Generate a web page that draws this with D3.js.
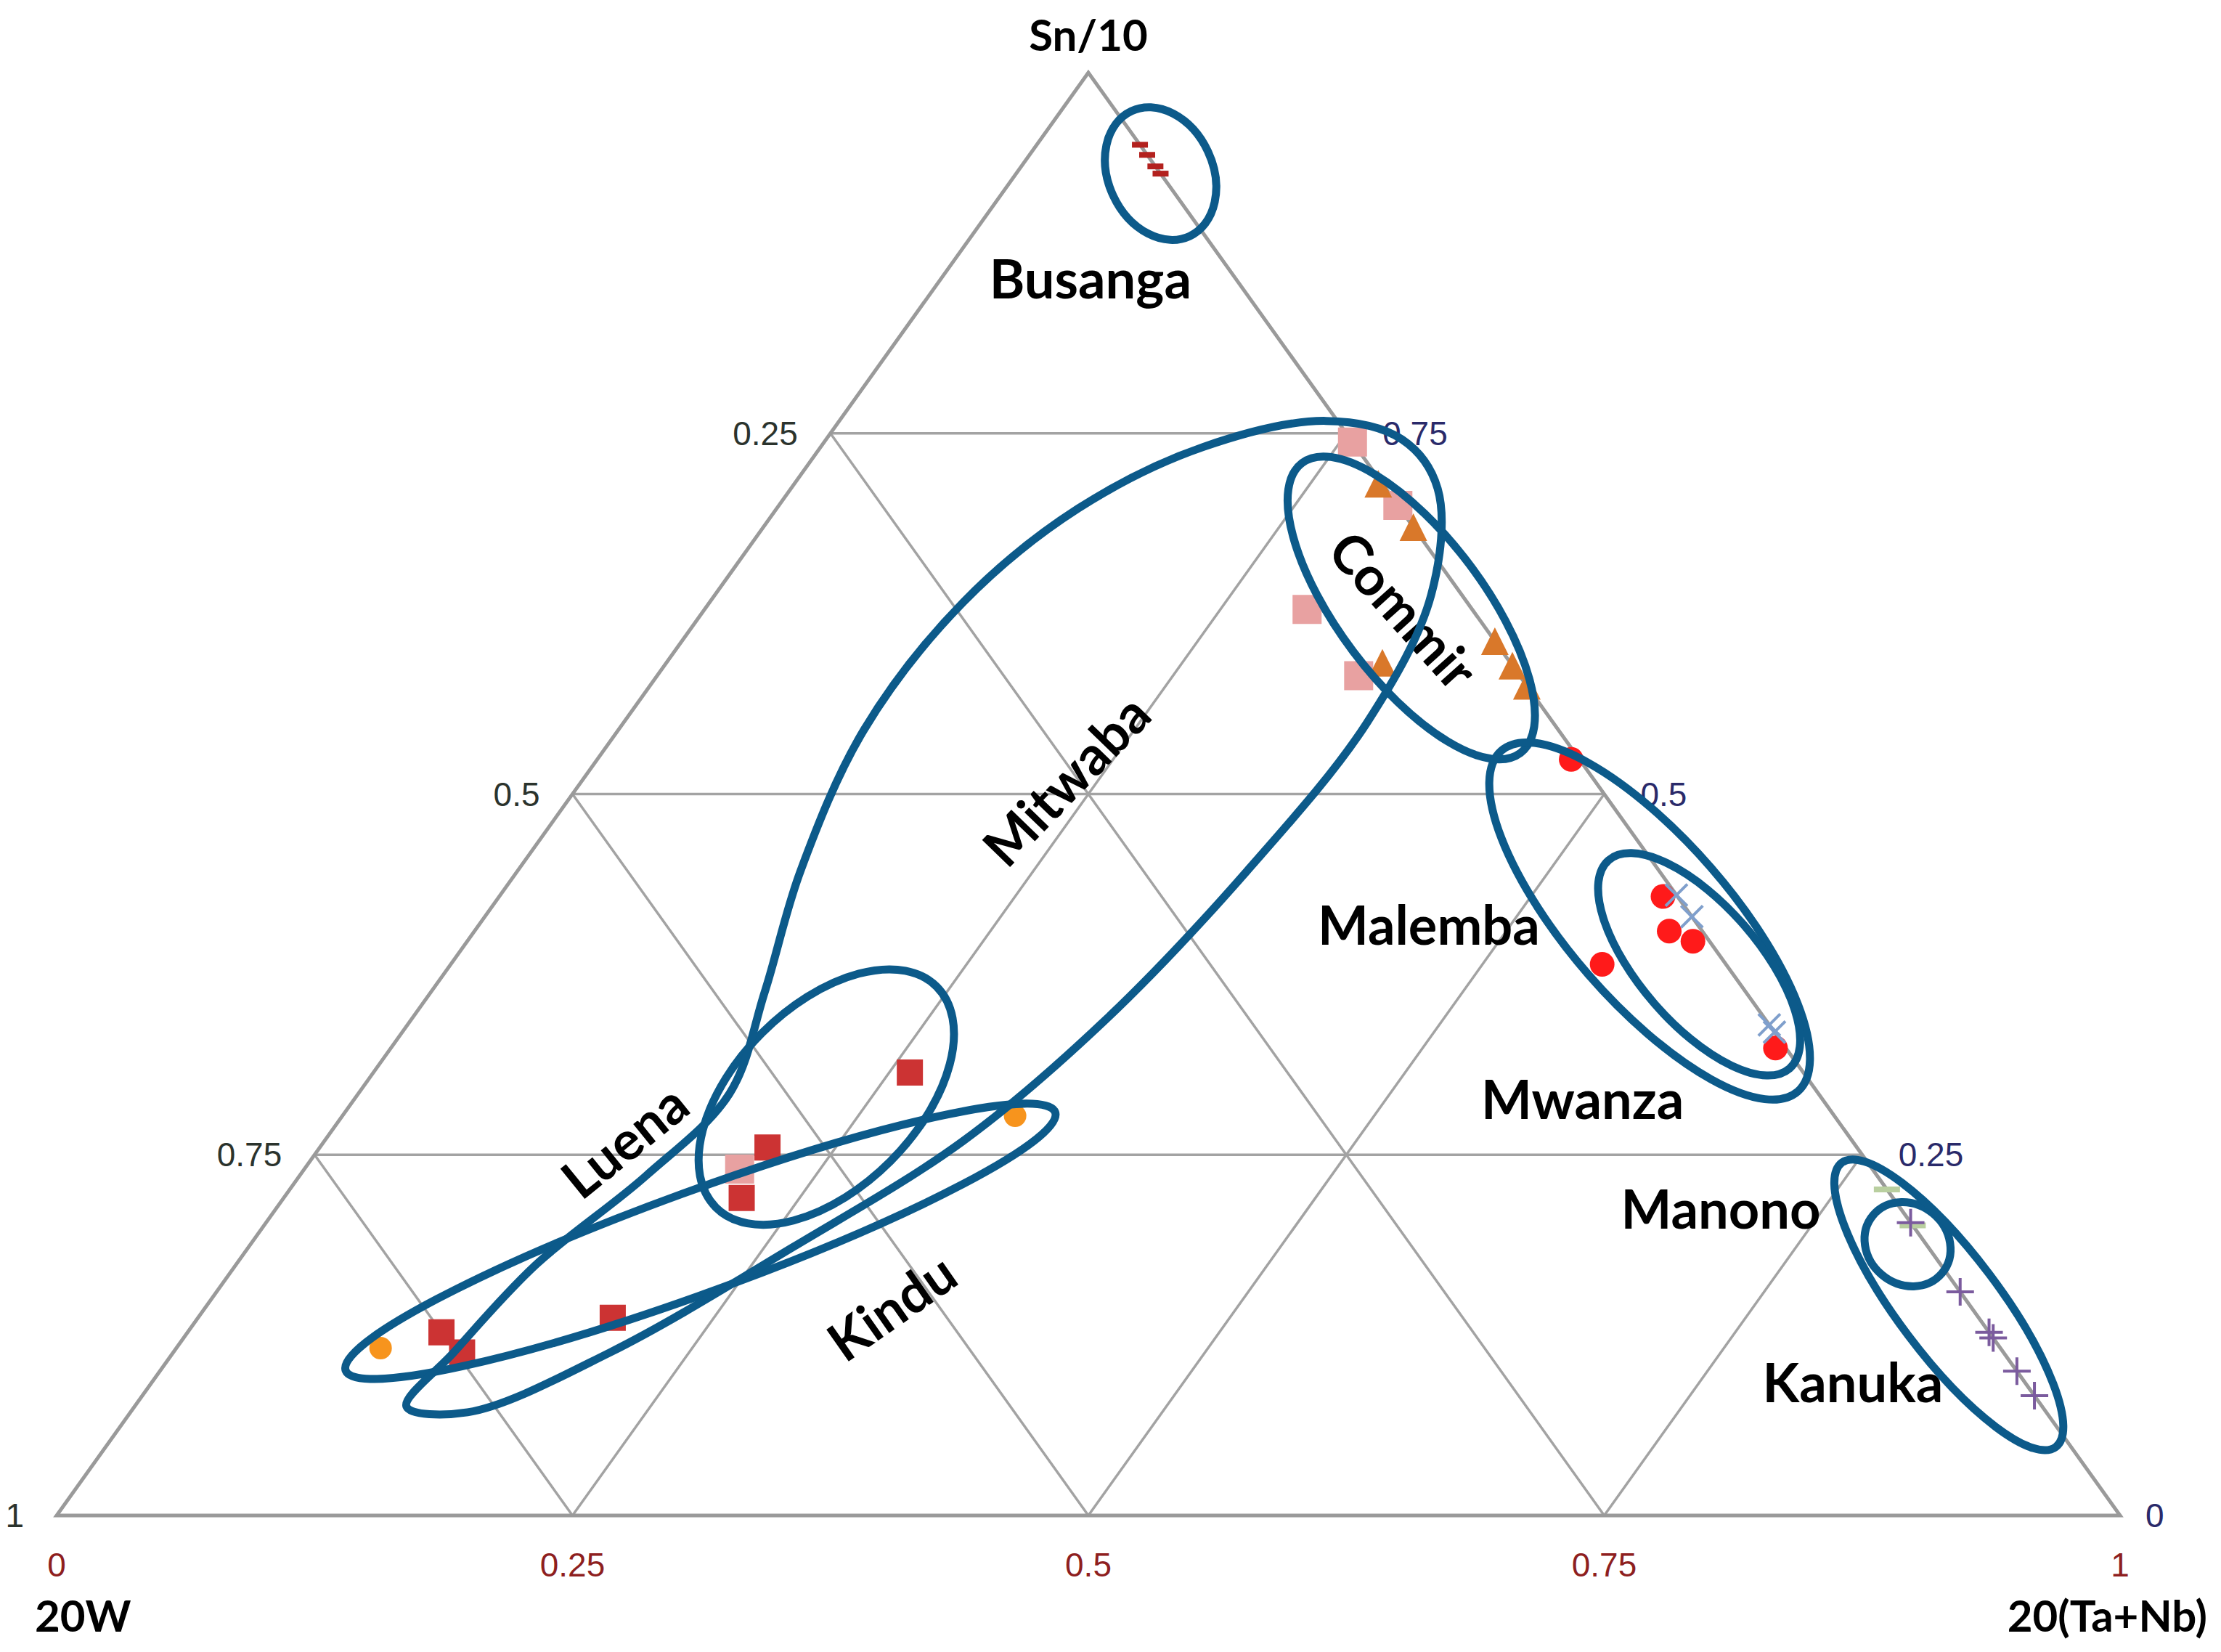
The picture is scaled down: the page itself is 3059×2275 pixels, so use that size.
<!DOCTYPE html>
<html>
<head>
<meta charset="utf-8">
<script src="https://cdn.jsdelivr.net/npm/d3@7"></script>
<style>
  body { margin: 0; background: #fff; }
  svg { display: block; }
</style>
</head>
<body>
<div id="chart"></div>
<script>
// page size
var svgWidth = 3059;
var svgHeight = 2275;

// where the triangle sits on the page
var tri = { left: 78, right: 2920, top: 100, base: 2087 };

// compositions, each one [Sn/10, 20W, 20(Ta+Nb)]
var busanga = [[0.950, 0.000, 0.050], [0.943, 0.000, 0.057], [0.935, 0.000, 0.065], [0.930, 0.000, 0.070]];
var mitwaba = [[0.744, 0.000, 0.256], [0.700, 0.000, 0.300], [0.628, 0.080, 0.292], [0.582, 0.078, 0.340], [0.240, 0.549, 0.211]];
var commir = [[0.715, 0.002, 0.283], [0.685, 0.000, 0.315], [0.606, 0.000, 0.394], [0.589, 0.000, 0.411], [0.575, 0.000, 0.425], [0.591, 0.062, 0.347]];
var malemba = [[0.524, 0.004, 0.472], [0.429, 0.007, 0.564], [0.405, 0.016, 0.579], [0.398, 0.008, 0.594], [0.382, 0.060, 0.558], [0.324, 0.005, 0.671]];
var mwanza = [[0.430, 0.000, 0.570], [0.415, 0.000, 0.585], [0.340, 0.000, 0.660], [0.335, 0.000, 0.665]];
var manono = [[0.226, 0.000, 0.774], [0.201, 0.000, 0.799]];
var kanuka = [[0.203, 0.000, 0.797], [0.155, 0.000, 0.845], [0.127, 0.000, 0.873], [0.123, 0.000, 0.877], [0.100, 0.000, 0.900], [0.083, 0.000, 0.917]];
var luena = [[0.307, 0.433, 0.260], [0.255, 0.528, 0.217], [0.220, 0.558, 0.222], [0.137, 0.662, 0.201], [0.127, 0.750, 0.123], [0.113, 0.747, 0.140]];
var kindu = [[0.116, 0.785, 0.099], [0.277, 0.397, 0.326]];

// grid levels and tick labels
var gridLevels = [0.25, 0.5, 0.75];
var leftTicks = ["1", "0.75", "0.5", "0.25"];      // along the left edge, bottom to top
var rightTicks = ["0", "0.25", "0.5", "0.75"];     // along the right edge, bottom to top
var bottomTicks = ["0", "0.25", "0.5", "0.75", "1"];

// hand drawn group outlines: centre as a composition, then size in px and tilt
var rings = [
  { at: [0.930, 0.000, 0.070], rx: 95, ry: 72, tilt: 65 },
  { at: [0.629, 0.029, 0.342], rx: 250, ry: 100, tilt: 53 },
  { at: [0.190, 0.593, 0.217], rx: 520, ry: 70, tilt: -20 },
  { at: [0.290, 0.482, 0.228], rx: 215, ry: 125, tilt: -45 },
  { at: [0.412, 0.022, 0.566], rx: 311, ry: 112, tilt: 49 },
  { at: [0.382, 0.013, 0.605], rx: 190, ry: 82, tilt: 49 },
  { at: [0.188, 0.009, 0.803], rx: 62, ry: 55, tilt: 40 },
  { at: [0.146, 0.010, 0.844], rx: 245, ry: 70, tilt: 53 }
];

// the long Mitwaba loop is not an ellipse, so it is traced point by point
var mitwabaLoop = [
  [0.0755, 0.7927, 0.1318], [0.1126, 0.7515, 0.1359], [0.1735, 0.6812, 0.1453],
  [0.2354, 0.5967, 0.1679], [0.2923, 0.5278, 0.1799], [0.3630, 0.4753, 0.1617],
  [0.4465, 0.4163, 0.1372], [0.5446, 0.3364, 0.1190], [0.6330, 0.2441, 0.1229],
  [0.6968, 0.1557, 0.1459], [0.7410, 0.0739, 0.1856], [0.7577, 0.0055, 0.2356],
  [0.7458, -0.0249, 0.2791], [0.7116, -0.0251, 0.3135], [0.6381, 0.0148, 0.3471],
  [0.5496, 0.0901, 0.3603], [0.4464, 0.2001, 0.3535], [0.3432, 0.3203, 0.3365],
  [0.2597, 0.4307, 0.3096], [0.1862, 0.5498, 0.2640], [0.1127, 0.6759, 0.2114],
  [0.0715, 0.7651, 0.1634]
];

var groupNames = [
  { text: "Busanga", at: [0.858, 0.070, 0.072], tilt: 0 },
  { text: "Mitwaba", at: [0.510, 0.256, 0.234], tilt: -46 },
  { text: "Commir", at: [0.628, 0.033, 0.339], tilt: 48 },
  { text: "Malemba", at: [0.410, 0.130, 0.460], tilt: 0 },
  { text: "Mwanza", at: [0.289, 0.116, 0.595], tilt: 0 },
  { text: "Manono", at: [0.213, 0.087, 0.700], tilt: 0 },
  { text: "Kanuka", at: [0.093, 0.083, 0.824], tilt: 0 },
  { text: "Luena", at: [0.260, 0.595, 0.145], tilt: -39 },
  { text: "Kindu", at: [0.145, 0.523, 0.332], tilt: -35 }
];

var series = [
  { data: busanga, shape: "dash", color: "#b3211e", size: 22 },
  { data: mitwaba, shape: "square", color: "#e8a1a1", size: 40 },
  { data: commir, shape: "triangle", color: "#d9782a", size: 38 },
  { data: malemba, shape: "circle", color: "#ff1a1a", size: 34 },
  { data: mwanza, shape: "cross", color: "#7f9fcc", size: 30 },
  { data: manono, shape: "dash", color: "#b9cf9f", size: 36 },
  { data: kanuka, shape: "plus", color: "#7b5b9e", size: 38 },
  { data: luena, shape: "square", color: "#cc3333", size: 36 },
  { data: kindu, shape: "circle", color: "#f7941d", size: 31 }
];

var svg = d3.select("#chart")
  .append("svg")
  .attr("width", svgWidth)
  .attr("height", svgHeight);

svg.append("rect")
  .attr("width", svgWidth)
  .attr("height", svgHeight)
  .attr("fill", "#fff");

// xScale runs along the base, yScale up to the Sn apex
var xScale = d3.scaleLinear().domain([0, 1]).range([tri.left, tri.right]);
var yScale = d3.scaleLinear().domain([0, 1]).range([tri.base, tri.top]);

function project(p) {
  var total = p[0] + p[1] + p[2];
  var sn = p[0] / total, tn = p[2] / total;
  return [xScale(tn + sn / 2), yScale(sn)];
}

var line = d3.line();

// grid lines
var grid = svg.append("g")
  .attr("fill", "none")
  .attr("stroke", "#a3a3a3")
  .attr("stroke-width", 3.5);

gridLevels.forEach(function(v) {
  // constant Sn
  grid.append("path").attr("d", line([project([v, 1 - v, 0]), project([v, 0, 1 - v])]));
  // constant Ta+Nb
  grid.append("path").attr("d", line([project([0, 1 - v, v]), project([1 - v, 0, v])]));
  // constant W
  grid.append("path").attr("d", line([project([0, v, 1 - v]), project([1 - v, v, 0])]));
});

svg.append("path")
  .attr("d", line([project([1, 0, 0]), project([0, 1, 0]), project([0, 0, 1])]) + "Z")
  .attr("fill", "none")
  .attr("stroke", "#9a9a9a")
  .attr("stroke-width", 5)
  .attr("stroke-linejoin", "miter");

// tick labels
var tickFont = "'Liberation Sans', Arial, sans-serif";

svg.append("g").selectAll("text")
  .data(leftTicks)
  .enter()
  .append("text")
  .attr("x", (d, i) => project([i * 0.25, 1 - i * 0.25, 0])[0] - 45)
  .attr("y", (d, i) => project([i * 0.25, 1 - i * 0.25, 0])[1])
  .attr("text-anchor", "end")
  .attr("dominant-baseline", "central")
  .style("font-family", tickFont)
  .style("font-size", "46px")
  .style("fill", "#2b332d")
  .text(d => d);

svg.append("g").selectAll("text")
  .data(rightTicks)
  .enter()
  .append("text")
  .attr("x", (d, i) => project([i * 0.25, 0, 1 - i * 0.25])[0] + (i === 0 ? 35 : 50))
  .attr("y", (d, i) => project([i * 0.25, 0, 1 - i * 0.25])[1])
  .attr("text-anchor", "start")
  .attr("dominant-baseline", "central")
  .style("font-family", tickFont)
  .style("font-size", "46px")
  .style("fill", "#2a2a6a")
  .text(d => d);

svg.append("g").selectAll("text")
  .data(bottomTicks)
  .enter()
  .append("text")
  .attr("x", (d, i) => xScale(i * 0.25))
  .attr("y", tri.base + 68)
  .attr("text-anchor", "middle")
  .attr("dominant-baseline", "central")
  .style("font-family", tickFont)
  .style("font-size", "46px")
  .style("fill", "#8e1f1f")
  .text(d => d);

// markers
function markerPath(shape, s) {
  var p = d3.path(), h = s / 2;
  if (shape === "square") {
    p.rect(-h, -h, s, s);
  } else if (shape === "triangle") {
    p.moveTo(0, -h); p.lineTo(h, h); p.lineTo(-h, h); p.closePath();
  } else if (shape === "circle") {
    p.arc(0, 0, h, 0, 2 * Math.PI);
  } else if (shape === "dash") {
    p.rect(-h, -4, s, 8);
  } else if (shape === "plus") {
    p.moveTo(-h, 0); p.lineTo(h, 0); p.moveTo(0, -h); p.lineTo(0, h);
  } else if (shape === "cross") {
    p.moveTo(-h, -h); p.lineTo(h, h); p.moveTo(-h, h); p.lineTo(h, -h);
  }
  return p.toString();
}

var stroked = { plus: true, cross: true };

series.forEach(function(s) {
  svg.append("g").selectAll("path")
    .data(s.data)
    .enter()
    .append("path")
    .attr("transform", d => "translate(" + project(d) + ")")
    .attr("d", markerPath(s.shape, s.size))
    .attr("fill", stroked[s.shape] ? "none" : s.color)
    .attr("stroke", stroked[s.shape] ? s.color : "none")
    .attr("stroke-width", 4);
});

// group names
svg.append("g").selectAll("text")
  .data(groupNames)
  .enter()
  .append("text")
  .attr("transform", d => "translate(" + project(d.at) + ") rotate(" + d.tilt + ")")
  .attr("text-anchor", "middle")
  .attr("dominant-baseline", "central")
  .style("font-family", "Lato, 'Open Sans', sans-serif")
  .style("font-weight", "bold")
  .style("font-size", "74px")
  .style("fill", "#000")
  .text(d => d.text);

// outlines drawn over everything
var outlines = svg.append("g")
  .attr("fill", "none")
  .attr("stroke", "#0c5a8a")
  .attr("stroke-width", 11);

outlines.selectAll("ellipse")
  .data(rings)
  .enter()
  .append("ellipse")
  .attr("transform", d => "translate(" + project(d.at) + ") rotate(" + d.tilt + ")")
  .attr("rx", d => d.rx)
  .attr("ry", d => d.ry);

outlines.append("path")
  .attr("d", d3.line().curve(d3.curveCatmullRomClosed.alpha(0.5))(mitwabaLoop.map(project)));

// corner titles
var titleFont = "Lato, 'Open Sans', sans-serif";
svg.append("text")
  .attr("x", xScale(0.5))
  .attr("y", 70)
  .attr("text-anchor", "middle")
  .style("font-family", titleFont)
  .style("font-weight", "bold")
  .style("font-size", "60px")
  .text("Sn/10");

svg.append("text")
  .attr("x", 48)
  .attr("y", 2247)
  .style("font-family", titleFont)
  .style("font-weight", "bold")
  .style("font-size", "60px")
  .text("20W");

svg.append("text")
  .attr("x", 3040)
  .attr("y", 2247)
  .attr("text-anchor", "end")
  .style("font-family", titleFont)
  .style("font-weight", "bold")
  .style("font-size", "60px")
  .text("20(Ta+Nb)");
</script>
</body>
</html>
